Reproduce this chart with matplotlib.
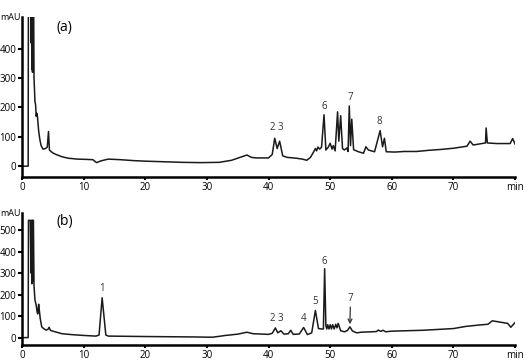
import matplotlib.pyplot as plt

plt.rcParams['font.family'] = ['Open Sans', 'DejaVu Sans']

# chromatogram (a): retention time (min) and absorbance (mAU)
time_a = [0, 1.0, 1.05, 1.4, 1.45, 1.55, 1.6, 1.65, 1.7, 1.75, 1.8, 1.85, 1.95,
          2.1, 2.2, 2.3, 2.4, 2.5, 2.7, 2.9, 3.1, 3.4, 3.8, 4.1, 4.3, 4.45, 4.6,
          5.0, 5.5, 6.5, 7.5, 9, 10.5, 11.5, 12.1, 12.8, 14, 16, 18, 20, 23, 26,
          29, 32, 34, 36.5, 37.2, 38, 40, 40.6, 41.0, 41.4, 41.8, 42.3, 43, 44.5,
          45.5, 46.2, 46.8, 47.3, 47.6, 47.8, 48.0, 48.3, 48.6, 49.0, 49.3, 49.7,
          50.0, 50.3, 50.5, 50.8, 51.2, 51.4, 51.7, 52.0, 52.3, 52.7, 52.9, 53.1,
          53.3, 53.5, 53.8, 54.6, 55.4, 55.8, 56.2, 57.2, 58.1, 58.5, 58.8, 59.1,
          60.5, 62, 64, 66, 68, 70, 72.2, 72.7, 73.2, 74.6, 75.2, 75.3, 75.5, 77,
          79.2, 79.6, 80]
mau_a = [0, 0, 800, 800, 420, 800, 330, 800, 320, 800, 330, 700, 300,
         220, 210, 170, 180, 170, 120, 90, 70, 58, 60, 65, 118, 55, 52,
         45, 40, 32, 27, 24, 23, 22, 12, 18, 24, 22, 19, 17, 15, 13,
         12, 13, 20, 38, 30, 28, 28, 40, 95, 60, 85, 35, 30, 27,
         24, 20, 30, 48, 60, 52, 65, 58, 65, 175, 55, 65,
         78, 58, 70, 52, 185, 85, 172, 60, 55, 62, 50, 205,
         70, 160, 56, 49, 44, 66, 55, 49, 121, 66, 95, 49,
         48, 50, 50, 54, 57, 61, 68, 85, 72, 77, 79, 130, 79, 77,
         77, 94, 75]

# chromatogram (b)
time_b = [0, 1.0, 1.05, 1.35, 1.45, 1.55, 1.6, 1.65, 1.7, 1.75, 1.85, 1.95,
          2.1, 2.3, 2.45, 2.55, 2.7, 2.8, 2.95, 3.2, 3.5, 3.9, 4.2, 4.4, 4.6,
          5.0, 5.5, 6.5, 8, 10, 12, 12.5, 13.0, 13.6, 14, 17, 20, 24, 28, 30,
          31, 33, 35, 36.5, 37.5, 40, 40.6, 41.1, 41.5, 42.0, 42.5, 43.2, 43.6,
          44.0, 45.0, 45.7, 46.3, 47.0, 47.6, 48.1, 48.6, 48.9, 49.1, 49.3,
          49.45, 49.6, 49.8, 50.0, 50.2, 50.4, 50.65, 50.9, 51.1, 51.3, 51.7,
          52.3, 52.8, 53.2, 53.6, 54.3, 55, 57.5, 57.8, 58.2, 58.6, 59, 60, 65,
          70, 72, 74, 75.6, 76.3, 78.8, 79.3, 80]
mau_b = [0, 0, 545, 545, 300, 545, 250, 545, 260, 545, 545, 240,
         175, 150, 120, 110, 155, 130, 90, 50, 42, 35, 38, 48, 34,
         30, 26, 18, 14, 10, 7, 12, 185, 12, 7, 6, 5, 4, 3, 2,
         2, 10, 16, 25, 18, 15, 20, 45, 22, 32, 16, 18, 34,
         15, 17, 47, 14, 22, 126, 42, 40, 40, 320, 55,
         40, 60, 40, 60, 40, 60, 40, 62, 45, 66, 32,
         27, 33, 50, 31, 22, 25, 28, 35, 29, 34, 27, 30, 34,
         42, 52, 58, 62, 78, 66, 48, 70]

# peak labels: (text, time, mAU)
labels_a = [('2 3', 41.4, 112), ('6', 49.0, 185), ('7', 53.3, 215), ('8', 57.9, 134)]
labels_b = [('1', 13.0, 203), ('2 3', 41.4, 62), ('4', 45.7, 62), ('5', 47.5, 140),
            ('6', 49.1, 330)]

x_ticks = [0, 10, 20, 30, 40, 50, 60, 70, 80]
x_ticklabels = ['0', '10', '20', '30', '40', '50', '60', '70', 'min']

fig = plt.figure(figsize=(5.24, 3.62), dpi=100)
ax_a = fig.add_axes([0.042, 0.511, 0.941, 0.442])
ax_b = fig.add_axes([0.042, 0.046, 0.941, 0.365])


def style(ax, ylim, yticks, tag):
    ax.set_xlim(0, 80)
    ax.set_ylim(*ylim)
    ax.set_xticks(x_ticks)
    ax.set_xticklabels(x_ticklabels)
    ax.set_yticks(yticks)
    for s in ['top', 'right']:
        ax.spines[s].set_visible(False)
    for s in ['left', 'bottom']:
        ax.spines[s].set_linewidth(1.8)
    ax.tick_params(axis='y', direction='out', length=3, width=1.5, pad=1,
                   labelsize=7)
    ax.tick_params(axis='x', direction='out', length=2.5, width=1.5, pad=1,
                   labelsize=7)
    ax.text(-0.2, ylim[1], 'mAU', ha='right', va='center', fontsize=6.5)
    ax.text(5.6, ylim[1] * 0.93, tag, ha='left', va='center', fontsize=10)


ax_a.plot(time_a, mau_a, color='#1a1a1a', lw=1.1)
style(ax_a, (-37, 508), [0, 100, 200, 300, 400], '(a)')
for txt, t, v in labels_a:
    ax_a.text(t, v, txt, ha='center', va='bottom', fontsize=7, color='#333333')

ax_b.plot(time_b, mau_b, color='#1a1a1a', lw=1.1)
style(ax_b, (-36, 578), [0, 100, 200, 300, 400, 500], '(b)')
for txt, t, v in labels_b:
    ax_b.text(t, v, txt, ha='center', va='bottom', fontsize=7, color='#333333')
ax_b.annotate('7', xy=(53.2, 62), xytext=(53.3, 155), ha='center', va='bottom',
              fontsize=7, color='#333333',
              arrowprops=dict(arrowstyle='->', color='#333333', lw=0.9,
                              shrinkA=0, shrinkB=0))

fig.savefig('out.png', dpi=100)
